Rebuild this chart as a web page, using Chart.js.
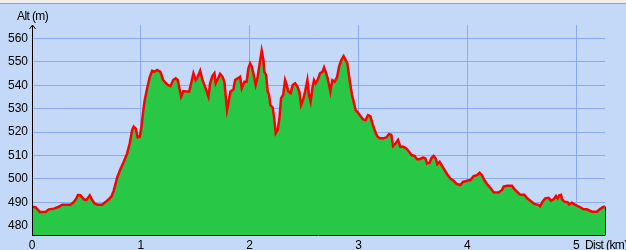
<!DOCTYPE html>
<html><head><meta charset="utf-8">
<script src="https://cdn.jsdelivr.net/npm/chart.js@4/dist/chart.umd.min.js"></script>
<style>html,body{margin:0;padding:0;background:#c4d8f8;overflow:hidden}
canvas{position:absolute;left:0;top:0}</style>
</head><body><canvas id="c" width="626" height="250"></canvas>
<script>
const distKm = [0.000,0.032,0.072,0.124,0.154,0.200,0.246,0.277,0.354,0.384,0.409,0.421,0.445,0.476,0.500,0.531,0.553,0.574,0.601,0.645,0.675,0.705,0.730,0.751,0.782,0.813,0.843,0.874,0.898,0.920,0.935,0.953,0.971,0.990,1.006,1.021,1.036,1.058,1.082,1.104,1.125,1.150,1.180,1.205,1.226,1.247,1.272,1.297,1.320,1.339,1.370,1.391,1.421,1.444,1.462,1.483,1.504,1.522,1.545,1.566,1.584,1.605,1.621,1.636,1.657,1.676,1.688,1.706,1.728,1.749,1.768,1.780,1.792,1.804,1.823,1.850,1.866,1.890,1.912,1.927,1.951,1.972,1.988,2.004,2.018,2.034,2.055,2.073,2.092,2.110,2.126,2.135,2.151,2.165,2.178,2.190,2.211,2.227,2.239,2.257,2.273,2.288,2.307,2.325,2.340,2.355,2.376,2.395,2.417,2.438,2.456,2.472,2.490,2.509,2.530,2.545,2.560,2.576,2.591,2.606,2.624,2.646,2.668,2.683,2.698,2.716,2.729,2.741,2.759,2.781,2.803,2.821,2.842,2.863,2.882,2.897,2.909,2.925,2.940,2.955,2.973,2.995,3.017,3.041,3.065,3.087,3.108,3.127,3.148,3.170,3.194,3.225,3.255,3.280,3.301,3.317,3.341,3.363,3.384,3.414,3.439,3.464,3.485,3.515,3.537,3.561,3.592,3.613,3.629,3.653,3.668,3.690,3.708,3.724,3.745,3.781,3.813,3.843,3.873,3.904,3.935,3.959,3.996,4.027,4.057,4.088,4.112,4.134,4.155,4.180,4.210,4.241,4.286,4.318,4.332,4.364,4.410,4.431,4.461,4.486,4.523,4.547,4.578,4.614,4.654,4.669,4.690,4.715,4.746,4.768,4.792,4.814,4.828,4.844,4.860,4.869,4.890,4.920,4.933,4.960,4.991,5.037,5.067,5.098,5.144,5.190,5.214,5.245,5.264];
const altM = [488.1,487.9,485.9,485.9,487.0,487.3,488.1,489.0,489.0,490.1,491.7,493.1,493.0,491.3,491.0,493.0,491.0,489.6,489.0,489.0,490.1,491.3,492.5,495.0,500.5,504.2,507.3,510.9,515.2,520.9,522.3,521.5,517.7,518.0,522.3,528.7,533.7,538.7,543.6,546.2,545.7,546.5,545.7,542.2,541.1,540.1,539.6,542.2,542.9,542.2,535.1,537.5,537.3,537.3,540.8,545.1,542.2,543.6,546.2,542.2,540.1,537.3,535.1,540.8,543.9,545.1,540.8,542.5,544.8,543.6,541.5,535.1,529.4,532.3,537.3,538.2,542.2,542.9,543.6,538.7,541.5,541.5,547.2,549.3,548.0,545.1,540.1,543.6,549.3,554.7,550.7,545.7,544.3,537.3,535.8,531.5,530.5,525.1,519.5,520.9,525.9,534.4,535.8,542.2,540.1,537.3,536.6,540.1,540.8,539.4,537.3,531.5,533.7,537.3,542.2,535.8,533.0,538.7,542.2,540.8,542.2,545.1,545.7,547.6,545.7,542.9,540.1,537.3,542.2,541.5,543.6,547.9,550.7,552.4,550.7,549.3,545.1,540.1,535.8,533.0,529.4,528.3,526.8,525.4,525.1,527.2,526.8,523.7,520.9,518.3,517.3,517.3,517.7,519.2,518.8,514.0,515.2,516.6,513.7,513.7,513.0,511.6,510.2,509.8,508.4,508.4,509.1,508.8,506.6,506.9,508.8,509.8,508.8,506.3,507.3,504.5,502.1,500.2,499.2,497.8,497.4,498.7,499.2,499.5,501.2,501.6,502.6,501.6,499.5,497.8,496.2,494.3,494.2,495.3,496.7,497.1,497.1,495.6,494.3,493.2,493.2,491.8,490.7,489.3,488.9,488.4,490.3,491.7,491.9,490.7,491.3,492.7,491.7,493.0,493.2,491.3,490.3,490.1,489.1,489.8,488.9,487.9,487.0,487.0,486.0,486.0,487.0,487.9,488.2];
const xTickValues = [0,1,2,3,4,5];
const yTickValues = [480,490,500,510,520,530,540,550,560];
const xAxisTitle = 'Dist (km)';
const yAxisTitle = 'Alt (m)';

const points = distKm.map((d,i)=>({x:d,y:altM[i]}));
const FAMILY = '"Liberation Sans", Arial, sans-serif';
const FONT = '12px ' + FAMILY;

const decor = {
  id:'decor',
  beforeDraw(chart){
    const c = chart.ctx;
    c.save();
    c.fillStyle = '#c4d8f8';
    c.fillRect(0,0,chart.width,chart.height);
    c.fillStyle = '#eeeeee';
    c.fillRect(0,0,chart.width,3);
    c.fillStyle = '#a0a0a0';
    c.fillRect(0,3,chart.width,1);
    c.restore();
  },
  afterDraw(chart){
    const c = chart.ctx, a = chart.chartArea;
    const xs = chart.scales.x, ys = chart.scales.y;
    c.save();
    c.strokeStyle = '#000'; c.lineWidth = 1;
    const lx = Math.round(a.left)+0.5;
    c.beginPath(); c.moveTo(lx, a.top); c.lineTo(lx, a.bottom+0.5); c.stroke();
    c.beginPath(); c.moveTo(lx-3, a.top+4); c.lineTo(lx, a.top); c.lineTo(lx+3, a.top+4); c.stroke();
    const by = Math.round(a.bottom)+0.5;
    c.beginPath(); c.moveTo(a.left, by); c.lineTo(a.right, by); c.stroke();
    const last = points[points.length-1];
    const px = Math.round(xs.getPixelForValue(last.x))+0.5;
    c.beginPath(); c.moveTo(px, ys.getPixelForValue(last.y)); c.lineTo(px, by); c.stroke();
    c.fillStyle = '#000'; c.font = FONT; c.textBaseline = 'alphabetic';
    c.textAlign = 'left';
    try { c.letterSpacing = '-0.6px'; } catch(e) {}
    c.fillText(yAxisTitle, 17, 20);
    c.fillText(xAxisTitle, 585, 249);
    c.restore();
  }
};

new Chart(document.getElementById('c'), {
  type:'line',
  data:{datasets:[{
    data: points,
    borderColor:'#ff0000',
    borderWidth:2.5,
    backgroundColor:'#28c846',
    fill:'start',
    pointRadius:0,
    tension:0
  }]},
  options:{
    responsive:false,
    animation:false,
    devicePixelRatio:1,
    layout:{padding:{top:25,right:21,left:0,bottom:0}},
    plugins:{legend:{display:false},tooltip:{enabled:false}},
    scales:{
      x:{
        type:'linear', min:0, max:5.264,
        afterBuildTicks(s){ s.ticks = xTickValues.map(v=>({value:v})); },
        afterFit(s){ s.height = 15; },
        grid:{color:'#8aaaf2', drawTicks:false, lineWidth:1},
        border:{display:false},
        ticks:{color:'#000', font:{family:FAMILY, size:12}, padding:3, maxRotation:0, autoSkip:false}
      },
      y:{
        type:'linear', min:476.05, max:565.7,
        afterBuildTicks(s){ s.ticks = yTickValues.map(v=>({value:v})); },
        afterFit(s){ s.width = 32; },
        grid:{color:'#8aaaf2', drawTicks:false, lineWidth:1},
        border:{display:false},
        ticks:{color:'#000', font:{family:FAMILY, size:12}, padding:4}
      }
    }
  },
  plugins:[decor]
});
</script></body></html>
